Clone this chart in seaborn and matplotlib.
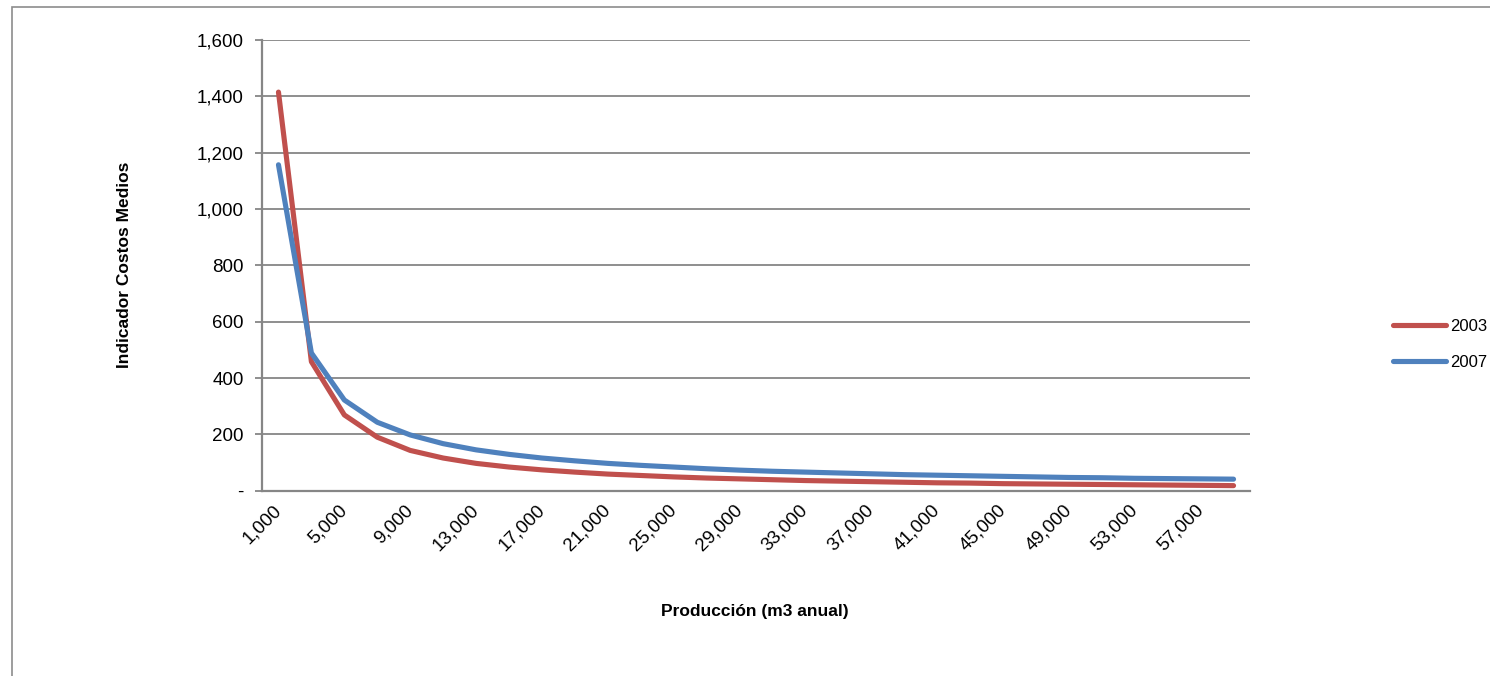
import matplotlib
matplotlib.use("Agg")
import matplotlib.pyplot as plt
import matplotlib.ticker as mticker
from matplotlib.patches import Rectangle
import pandas as pd
import seaborn as sns

# Annual production (m3) for each point on the category axis
produccion = [1000, 3000, 5000, 7000, 9000, 11000, 13000, 15000, 17000, 19000,
              21000, 23000, 25000, 27000, 29000, 31000, 33000, 35000, 37000, 39000,
              41000, 43000, 45000, 47000, 49000, 51000, 53000, 55000, 57000, 59000]

# Average cost indicator per year
costos_2003 = [1415, 458, 269, 190, 143, 116, 97, 84, 74, 66,
               59, 54, 49, 45, 42, 39, 36, 34, 32, 30,
               28, 27, 25, 24, 23, 22, 21, 20, 19, 18]
costos_2007 = [1157, 489, 322, 243, 198, 167, 145, 129, 116, 106,
               97, 90, 84, 78, 73, 69, 66, 63, 60, 57,
               55, 53, 51, 49, 47, 46, 44, 43, 42, 41]

series_names = ["2003", "2007"]
series_colors = ["#C0504D", "#4F81BD"]

x_ticks = [1000, 5000, 9000, 13000, 17000, 21000, 25000, 29000,
           33000, 37000, 41000, 45000, 49000, 53000, 57000]
y_ticks = [0, 200, 400, 600, 800, 1000, 1200, 1400, 1600]

df = pd.DataFrame({
    "Producción": produccion * 2,
    "Costo": costos_2003 + costos_2007,
    "Año": [series_names[0]] * len(produccion) + [series_names[1]] * len(produccion),
})

sns.set_style("white")
plt.rcParams["font.family"] = ["Liberation Sans", "DejaVu Sans"]
plt.rcParams["text.color"] = "black"
plt.rcParams["axes.labelcolor"] = "black"
plt.rcParams["xtick.color"] = "black"
plt.rcParams["ytick.color"] = "black"

W, H = 1490, 676
fig = plt.figure(figsize=(W / 100, H / 100), dpi=100)
ax = fig.add_axes([262 / W, 1 - 490.7 / H, (1250 - 262) / W, (490.7 - 40) / H])

grid_gray = "#868686"
line_w = 3.7

sns.lineplot(data=df, x="Producción", y="Costo", hue="Año",
             palette=dict(zip(series_names, series_colors)),
             linewidth=line_w, ax=ax, legend=True, solid_capstyle="round")

ax.set_xlim(0, 60000)
ax.set_ylim(0, 1600)
ax.set_yticks(y_ticks)
ax.set_xticks(x_ticks)
ax.yaxis.set_major_formatter(mticker.FuncFormatter(
    lambda v, p: "-" if v == 0 else f"{v:,.0f}"))
ax.xaxis.set_major_formatter(mticker.FuncFormatter(lambda v, p: f"{v:,.0f}"))

ax.grid(axis="y", color=grid_gray, linewidth=1.3)
ax.grid(axis="x", visible=False)
ax.set_axisbelow(True)
for side in ["top", "right"]:
    ax.spines[side].set_visible(False)
for side in ["left", "bottom"]:
    ax.spines[side].set_color(grid_gray)
    ax.spines[side].set_linewidth(1.6)

ax.tick_params(axis="y", length=5, width=1.3, color=grid_gray,
               labelsize=13.5, pad=8, left=True, labelcolor="black")
ax.tick_params(axis="x", length=0, labelsize=13.5, pad=12, labelcolor="black")
for lbl in ax.get_xticklabels():
    lbl.set_rotation(45)
    lbl.set_ha("right")
    lbl.set_va("center")
    lbl.set_rotation_mode("anchor")

ax.set_xlabel("Producción (m3 anual)", fontsize=12.5, fontweight="bold", color="black")
ax.set_ylabel("Indicador Costos Medios", fontsize=12.5, fontweight="bold", color="black")
ax.xaxis.set_label_coords((755 - 262) / (1250 - 262), -(604 - 490.7) / (490.7 - 40))
ax.yaxis.set_label_coords(-(262 - 132) / (1250 - 262), (490.7 - 265) / (490.7 - 40))

handles, labels = ax.get_legend_handles_labels()
ax.legend_.remove()
leg = fig.legend(handles, labels, loc="center left",
                 bbox_to_anchor=(1393 / W, 1 - 344.5 / H),
                 frameon=False, fontsize=12, handlelength=3.2,
                 handletextpad=0.2, labelspacing=1.25, borderpad=0,
                 borderaxespad=0)
for line in leg.get_lines():
    line.set_linewidth(line_w)
    line.set_solid_capstyle("round")

# Chart area border
fig.patches.append(Rectangle((12 / W, -0.1), 1.2, 1.1 - 7 / H,
                             transform=fig.transFigure, fill=False,
                             edgecolor="#8C8C8C", linewidth=1.2))

fig.savefig("out.png", dpi=100, facecolor="white")
